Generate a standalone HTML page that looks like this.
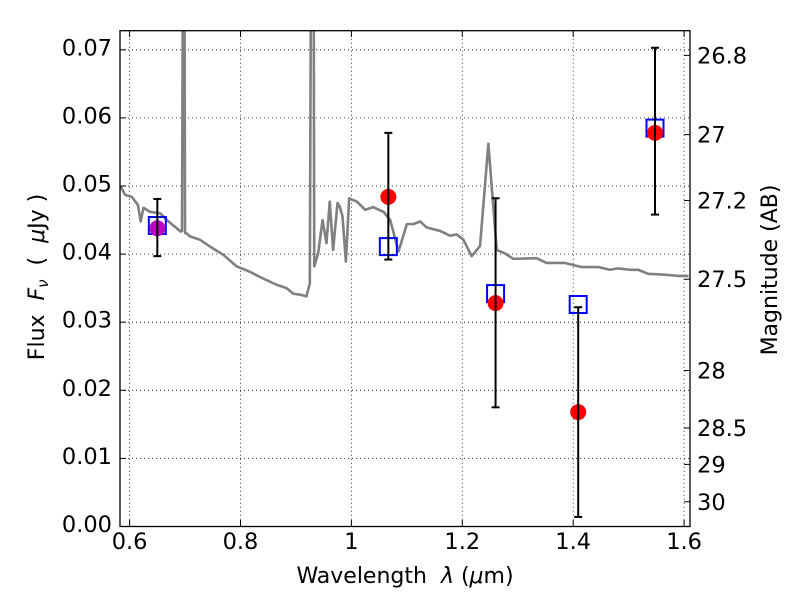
<!DOCTYPE html>
<html><head><meta charset="utf-8"><style>
body{margin:0;background:#fff}
svg{display:block;font-family:"DejaVu Sans","Liberation Sans",sans-serif}
</style></head><body>
<svg id="chart" width="800" height="600" viewBox="0 0 800 600" xmlns="http://www.w3.org/2000/svg">
<defs><clipPath id="clip"><rect x="120" y="30.7" width="570" height="495.8"/></clipPath></defs>
<rect x="0" y="0" width="800" height="600" fill="#fff"/>
<g id="grid"></g>
<g id="spec" clip-path="url(#clip)"></g>
<g id="pts"></g>
<rect x="120" y="30.7" width="570" height="495.8" fill="none" stroke="#000" stroke-width="1.3"/>
<g id="axes" font-size="22.5"></g>
<text x="405" y="583" text-anchor="middle" font-size="22" style="white-space:pre" xml:space="preserve">Wavelength  <tspan font-style="italic">λ</tspan> (<tspan font-style="italic">μ</tspan>m)</text>
<text transform="translate(44,277) rotate(-90)" text-anchor="middle" font-size="22" style="white-space:pre" xml:space="preserve">Flux  <tspan font-style="italic">F</tspan><tspan font-style="italic" font-size="15" dy="4">ν</tspan><tspan dy="-4">  (  </tspan><tspan font-style="italic">μ</tspan>Jy )</text>
<text transform="translate(777,270) rotate(-90)" text-anchor="middle" font-size="22">Magnitude (AB)</text>
</svg>
<script>
const specLam=[0.584,0.592,0.604,0.615,0.620,0.625,0.637,0.655,0.670,0.685,0.692,0.6945,0.696,0.699,0.700,0.702,0.709,0.727,0.745,0.769,0.793,0.817,0.841,0.865,0.883,0.895,0.910,0.919,0.925,0.927,0.932,0.933,0.940,0.948,0.955,0.961,0.967,0.975,0.979,0.984,0.990,0.996,1.010,1.025,1.039,1.058,1.070,1.085,1.100,1.112,1.124,1.136,1.160,1.178,1.190,1.202,1.217,1.232,1.247,1.262,1.277,1.292,1.334,1.352,1.385,1.415,1.445,1.466,1.481,1.502,1.517,1.535,1.562,1.590,1.608];
const specFlux=[0.0499,0.0487,0.0484,0.0472,0.0448,0.0468,0.0462,0.0460,0.0448,0.0438,0.0433,0.0434,0.08,0.08,0.0431,0.0431,0.0426,0.0421,0.0411,0.0399,0.0382,0.0374,0.0364,0.0355,0.0350,0.0342,0.0340,0.0338,0.0357,0.08,0.08,0.0382,0.0401,0.0450,0.0416,0.0477,0.0406,0.0475,0.0470,0.0455,0.0389,0.0482,0.0477,0.0465,0.0469,0.0462,0.0450,0.0404,0.0444,0.0444,0.0448,0.0439,0.0434,0.0427,0.0429,0.0421,0.0397,0.0412,0.0562,0.0406,0.0401,0.0393,0.0394,0.0387,0.0387,0.0381,0.0381,0.0377,0.0379,0.0377,0.0377,0.0371,0.0370,0.0368,0.0368];
const bandLam=[0.650,1.0666,1.260,1.409,1.5475];
const obsFlux=[0.0438,0.0484,0.0328,0.0168,0.0578];
const errHi=[0.0481,0.0578,0.0482,0.0322,0.0703];
const errLo=[0.0397,0.0392,0.0175,0.0014,0.0458];
const modelFlux=[0.0442,0.0411,0.0342,0.0326,0.0585];
const xTicks=[0.6,0.8,1.0,1.2,1.4,1.6];
const xTickLabels=["0.6","0.8","1","1.2","1.4","1.6"];
const yTicks=[0,0.01,0.02,0.03,0.04,0.05,0.06,0.07];
const yTickLabels=["0.00","0.01","0.02","0.03","0.04","0.05","0.06","0.07"];
const magTicks=[26.8,27,27.2,27.5,28,28.5,29,30];
const magLabels=["26.8","27","27.2","27.5","28","28.5","29","30"];

const NS="http://www.w3.org/2000/svg";
const X=l=>351.4+(l-1)*554.5;
const Y=f=>526.5-f*6810;
function mk(tag,attrs,parent){const e=document.createElementNS(NS,tag);for(const k in attrs)e.setAttribute(k,attrs[k]);parent.appendChild(e);return e;}
const grid=document.getElementById('grid'),axes=document.getElementById('axes');
xTicks.forEach((t,i)=>{
  const x=X(t);
  const g=mk('line',{x1:x,x2:x,y1:30.7,y2:526.5,stroke:'#000','stroke-width':0.8,'stroke-dasharray':'1,3'},grid);
  
  
  mk('line',{x1:x,x2:x,y1:526.5,y2:520,stroke:'#000'},axes);
  mk('line',{x1:x,x2:x,y1:30.7,y2:37,stroke:'#000'},axes);
  const tx=mk('text',{x:x,y:549,'text-anchor':'middle'},axes);
  tx.textContent=xTickLabels[i];
  
  
});
yTicks.forEach((t,i)=>{
  const y=Y(t);
  const g=mk('line',{x1:120,x2:690,y1:y,y2:y,stroke:'#000','stroke-width':0.8,'stroke-dasharray':'1,3'},grid);
  
  
  mk('line',{x1:120,x2:126,y1:y,y2:y,stroke:'#000'},axes);
  const tx=mk('text',{x:112,y:y+5.5,'text-anchor':'end'},axes);
  tx.textContent=yTickLabels[i];
  
  
});
magTicks.forEach((m,i)=>{
  const y=Y(Math.pow(10,(23.9-m)/2.5));
  mk('line',{x1:684,x2:690,y1:y,y2:y,stroke:'#000'},axes);
  const tx=mk('text',{x:697,y:y+8,'text-anchor':'start'},axes);
  tx.textContent=magLabels[i];
  
  
});
const sp=mk('polyline',{points:specLam.map((l,i)=>X(l)+','+Y(specFlux[i])).join(' '),fill:'none',stroke:'#808080','stroke-width':2.6,'stroke-linejoin':'round'},document.getElementById('spec'));


const pts=document.getElementById('pts');
bandLam.forEach((l,i)=>{
  const x=X(l);
  const e=mk('g',{},pts);
  
  
  const r=mk('rect',{x:x-8.5,y:Y(modelFlux[i])-8.5,width:17,height:17,fill:'none',stroke:'#0000ff','stroke-width':2},e);
  
  
  const c=mk('circle',{cx:x,cy:Y(obsFlux[i]),r:8,fill:i===0?'#bf00bf':'#ff0000'},e);
  
  
  mk('line',{x1:x,x2:x,y1:Y(errHi[i]),y2:Y(errLo[i]),stroke:'#000','stroke-width':2},e);
  mk('line',{x1:x-4,x2:x+4,y1:Y(errHi[i]),y2:Y(errHi[i]),stroke:'#000','stroke-width':2},e);
  mk('line',{x1:x-4,x2:x+4,y1:Y(errLo[i]),y2:Y(errLo[i]),stroke:'#000','stroke-width':2},e);
});
</script>
</body></html>
